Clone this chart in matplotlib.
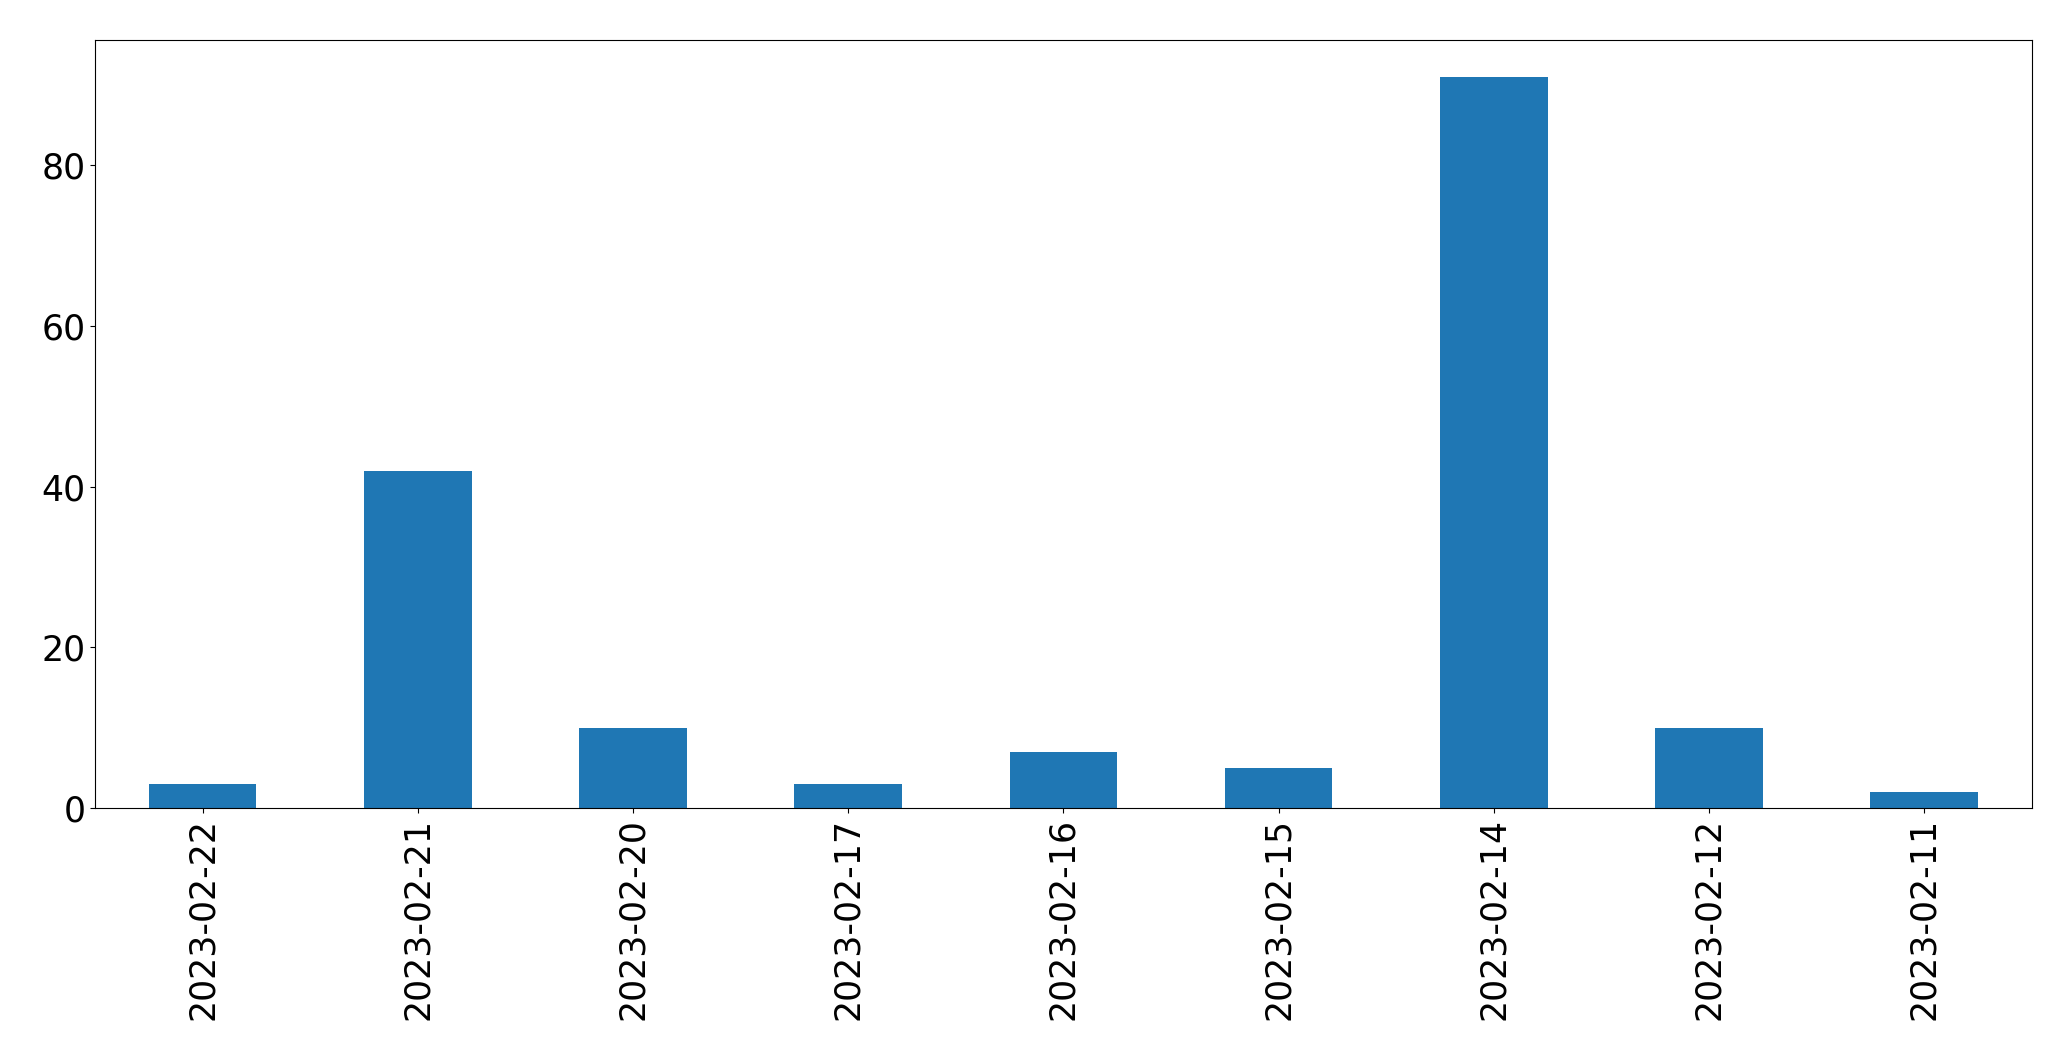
import matplotlib
matplotlib.use("Agg")
import matplotlib.pyplot as plt
import numpy as np

dates = ["2023-02-22", "2023-02-21", "2023-02-20", "2023-02-17", "2023-02-16",
         "2023-02-15", "2023-02-14", "2023-02-12", "2023-02-11"]
counts = [3, 42, 10, 3, 7, 5, 91, 10, 2]

fig = plt.figure(figsize=(20.71, 10.61), dpi=100)
ax = fig.add_axes([0.0459, 0.2385, 0.9351, 0.7235])
x = np.arange(len(dates))
ax.bar(x, counts, width=0.5, color="#1f77b4")
ax.set_xlim(-0.5, len(dates) - 0.5)
ax.set_ylim(0, max(counts) * 1.05)
ax.set_xticks(x)
ax.set_xticklabels(dates, rotation=90)
ax.set_yticks([0, 20, 40, 60, 80])
ax.tick_params(labelsize=25)
fig.savefig("out.png", dpi=100)
